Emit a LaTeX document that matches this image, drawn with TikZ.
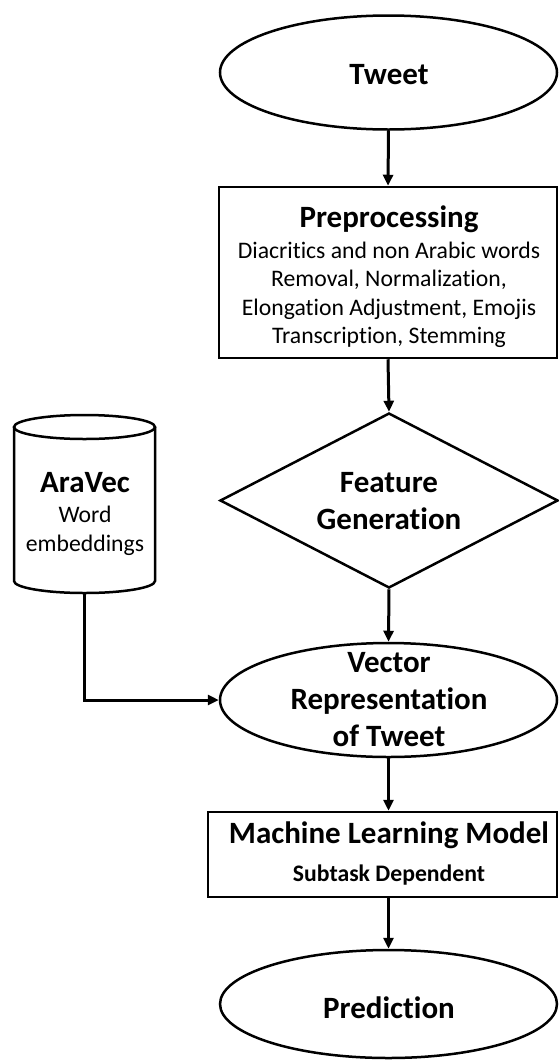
\documentclass[tikz,border=0pt]{standalone}
\usepackage{fontspec}
\setmainfont{Carlito}[Ligatures=NoCommon]
\usetikzlibrary{shapes.geometric,arrows.meta}
\newcommand{\hbig}{\fontsize{31}{34}\selectfont\bfseries}
\newcommand{\hsmall}{\fontsize{23.7}{28.5}\selectfont\mdseries}
\newcommand{\hsmallb}{\fontsize{23.7}{28}\selectfont\bfseries}
\begin{document}
\begin{tikzpicture}[x=1pt,y=-1pt,
  shp/.style={draw=black,line width=2.5pt,fill=white,inner sep=0pt},
  ell/.style={shp,ellipse,minimum width=337pt,minimum height=114pt},
  arr/.style={line width=3pt,-{Triangle[length=11pt,width=10pt]}},
  big/.style={font=\fontsize{31}{37}\selectfont\bfseries},
  txt/.style={align=center,inner sep=0pt}]
\useasboundingbox (0,0) rectangle (558,1061);
% shapes
\node[ell] (tweet) at (388.5,72.5) {};
\node[txt,big] (tweett) at (389,75) {Tweet};
\node[shp,rectangle,minimum width=338pt,minimum height=171pt] (pre) at (388,272.5) {};
\node[txt,font=\hsmall] (pret) at (389,277) {\hbig Preprocessing\\[2pt]
  Diacritics and non Arabic words\\ Removal, Normalization,\\ Elongation Adjustment, Emojis\\ Transcription, Stemming};
\node[shp,diamond,minimum width=338pt,minimum height=175pt] (feat) at (389,500.5) {};
\node[txt,big] (featt) at (389,501) {Feature\\ Generation};
% cylinder
\node[txt,minimum width=141pt,minimum height=178pt] (ara) at (84.5,504) {};
\draw[line width=2.5pt,fill=white] (14,427) -- (14,581) arc[start angle=180,end angle=360,x radius=70.5pt,y radius=12pt] -- (155,427);
\draw[line width=2.5pt] (84.5,427) ellipse [x radius=70.5pt,y radius=12pt];
\node[txt,font=\hsmall] (arat) at (85,513.5) {\hbig AraVec\\[2pt] Word\\ embeddings};
\node[ell] (vec) at (388.5,700) {};
\node[txt,big] (vect) at (389,700) {Vector\\ Representation\\ of Tweet};
\node[shp,rectangle,minimum width=349pt,minimum height=85pt] (ml) at (382.5,854.5) {};
\node[txt,font=\hsmallb] (mlt) at (389,853) {\hbig Machine Learning Model\\[10pt] Subtask Dependent};
\node[ell,minimum height=108pt] (pred) at (388.5,1004) {};
\node[txt,big] (predt) at (389,1008) {Prediction};
% connectors
\draw[arr] (tweet.south) -- (pre.north);
\draw[arr] (pre.south) -- (feat.north);
\draw[arr] (feat.south) -- (vec.north);
\draw[arr] (ara.south) |- (vec.west);
\draw[arr] (vec.south) -- (vec.south |- ml.north);
\draw[arr] (vec.south |- ml.south) -- (pred.north);
\end{tikzpicture}
\end{document}
